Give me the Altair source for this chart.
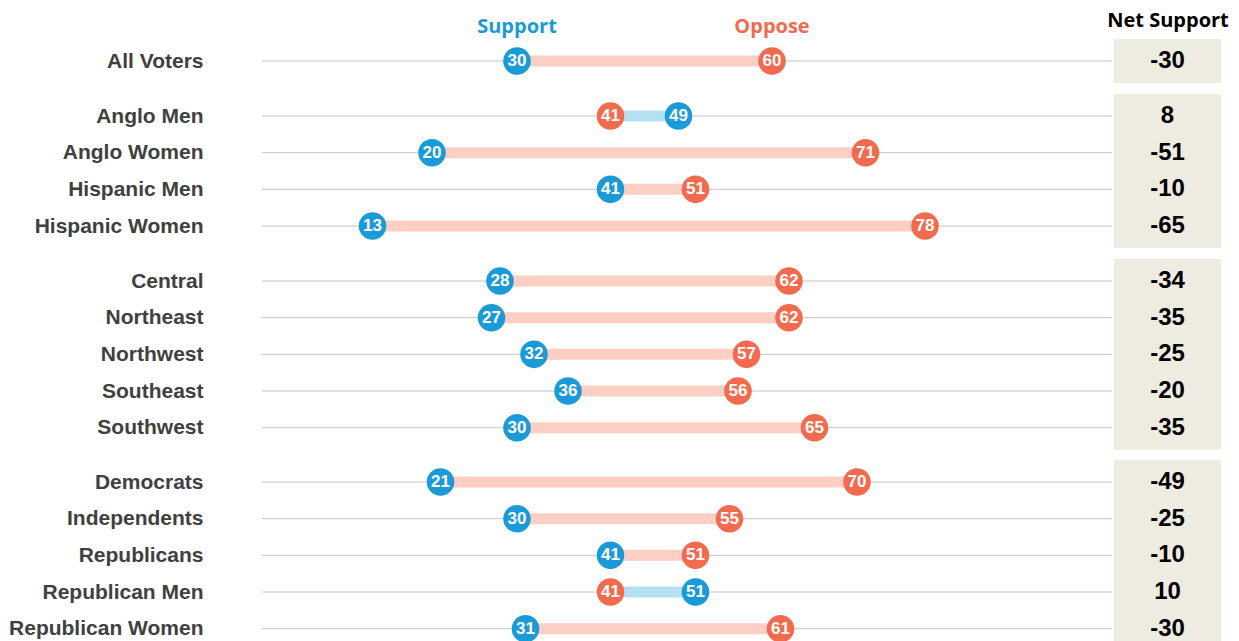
import altair as alt
import pandas as pd

categories = ["All Voters", "Anglo Men", "Anglo Women", "Hispanic Men", "Hispanic Women",
              "Central", "Northeast", "Northwest", "Southeast", "Southwest",
              "Democrats", "Independents", "Republicans", "Republican Men", "Republican Women"]
groups = [1, 2, 2, 2, 2, 3, 3, 3, 3, 3, 4, 4, 4, 4, 4]
support = [30, 49, 20, 41, 13, 28, 27, 32, 36, 30, 21, 30, 41, 51, 31]
oppose = [60, 41, 71, 51, 78, 62, 62, 57, 56, 65, 70, 55, 51, 41, 61]
net_support = [-30, 8, -51, -10, -65, -34, -35, -25, -20, -35, -49, -25, -10, 10, -30]

BLUE = "#1a9bd7"
ORANGE = "#f26b4f"
PINK = "#fccfc5"
LIGHTBLUE = "#b5e0f0"
BOX = "#eeece1"
GRID = "#c4c4c4"
LABEL = "#404040"
STEP = 36.67
PAD = 0.6

df = pd.DataFrame({
    "cat": categories,
    "grp": groups,
    "Support": support,
    "Oppose": oppose,
    "net": [str(v) for v in net_support],
    "hdr": "Net Support",
})

panels = []
for g in sorted(set(groups)):
    d = df[df.grp == g]
    n = len(d)
    h = STEP * (n - 1 + 2 * PAD)
    order = list(d.cat)
    yscale = alt.Scale(type="point", padding=PAD)
    y = alt.Y("cat:N", sort=order, scale=yscale,
              axis=alt.Axis(title=None, domain=False, ticks=False, grid=False,
                            labelFontSize=21, labelFont="Liberation Sans",
                            labelFontWeight="bold", labelColor=LABEL,
                            labelPadding=59, labelLimit=400))
    xscale = alt.Scale(domain=[0, 100])
    base = alt.Chart(d)
    grid = base.mark_rule(color=GRID, strokeWidth=1).encode(y=y)
    bar = base.mark_rule(strokeWidth=11).encode(
        y=y,
        x=alt.X("Support:Q", scale=xscale, axis=None),
        x2="Oppose:Q",
        color=alt.condition("datum.Support > datum.Oppose",
                            alt.value(LIGHTBLUE), alt.value(PINK)),
    )
    long = base.transform_fold(["Support", "Oppose"], as_=["key", "val"])
    color = alt.Color("key:N", scale=alt.Scale(domain=["Support", "Oppose"],
                                               range=[BLUE, ORANGE]), legend=None)
    dots = long.mark_circle(size=760, opacity=1).encode(
        y=y, x=alt.X("val:Q", scale=xscale, axis=None), color=color)
    labels = long.mark_text(color="white", fontWeight="bold", fontSize=17,
                            font="Liberation Sans").encode(
        y=y, x=alt.X("val:Q", scale=xscale, axis=None), text="val:Q")
    layers = [grid, bar, dots, labels]
    if g == 1:
        heads = long.mark_text(fontSize=20, fontWeight="bold", font="Open Sans",
                               dy=-34, baseline="middle").encode(
            y=y, x=alt.X("val:Q", scale=xscale, axis=None), text="key:N", color=color)
        layers.append(heads)
    main = alt.layer(*layers).properties(width=850, height=h)

    if g == 1:
        xax = alt.Axis(orient="top", title=None, domain=False, ticks=False,
                       labelAngle=0, labelFontSize=20, labelFont="Open Sans",
                       labelFontWeight="bold", labelColor="black", labelPadding=9)
    else:
        xax = None
    netchart = base.mark_text(fontSize=24, fontWeight="bold", font="Liberation Sans",
                              color="black").encode(
        y=alt.Y("cat:N", sort=order, scale=yscale, axis=None),
        x=alt.X("hdr:N", axis=xax),
        text="net:N",
    ).properties(width=107, height=h, view=alt.ViewBackground(fill=BOX, stroke=None))

    panels.extend([main, netchart])

chart = alt.concat(*panels, columns=2, spacing={"row": 10, "column": 2},
                   bounds="flush").resolve_scale(
    y="independent", x="independent").configure_view(
    stroke=None).properties(padding={"top": 2, "left": 0, "right": 0, "bottom": 0})

chart.save("out.html", embed_options={"renderer": "svg", "actions": False})
